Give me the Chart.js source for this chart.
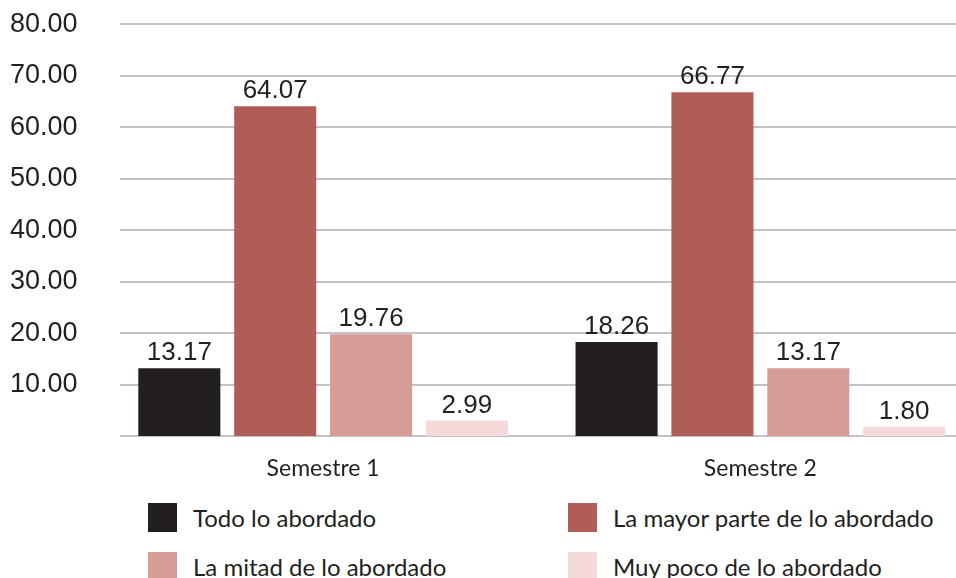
<!DOCTYPE html>
<html>
<head>
<meta charset="utf-8">
<script src="https://cdn.jsdelivr.net/npm/chart.js@4.4.0/dist/chart.umd.min.js"></script>
<style>
  html, body { margin: 0; padding: 0; background: #fff; overflow: hidden; }
  #wrap { position: relative; width: 956px; height: 578px; overflow: hidden; }
  #chart { position: absolute; left: 0; top: -19px; }
  #legend { position: absolute; left: 148px; top: 503px; width: 808px;
    display: grid; grid-template-columns: 420px 388px; grid-auto-rows: 49px;
    font-family: Lato, sans-serif; font-size: 24px; color: #231F20; }
  #legend .item { display: flex; align-items: flex-start; white-space: nowrap; }
  #legend .box { width: 29px; height: 29px; margin-right: 16px; flex: none; }
  #legend .txt { line-height: 29px; }
</style>
</head>
<body>
<div id="wrap">
  <canvas id="chart" width="979" height="509"></canvas>
  <div id="legend"></div>
</div>
<script>
document.addEventListener('DOMContentLoaded', function() {

// data
const categories = ['Semestre 1', 'Semestre 2'];
const seriesNames = ['Todo lo abordado', 'La mayor parte de lo abordado', 'La mitad de lo abordado', 'Muy poco de lo abordado'];
const todo = [13.17, 18.26];
const mayorParte = [64.07, 66.77];
const mitad = [19.76, 13.17];
const muyPoco = [2.99, 1.80];
const colors = ['#231F20', '#B05D57', '#D69C96', '#F4DADA'];
const yTicks = [0, 10, 20, 30, 40, 50, 60, 70, 80];

const numFont = '26px "Liberation Sans", Arial, sans-serif';
const textColor = '#231F20';
const gridColor = '#C3C2C7';

// grid lines start a bit right of the axis area
const gridPlugin = {
  id: 'gridLines',
  beforeDatasetsDraw(chart) {
    const ctx = chart.ctx;
    const y = chart.scales.y;
    ctx.save();
    ctx.strokeStyle = gridColor;
    ctx.lineWidth = 2;
    yTicks.forEach(v => {
      const py = Math.round(y.getPixelForValue(v));
      ctx.beginPath();
      ctx.moveTo(120, py);
      ctx.lineTo(chart.width, py);
      ctx.stroke();
    });
    ctx.restore();
  }
};

// value labels above bars
const valuePlugin = {
  id: 'valueLabels',
  afterDatasetsDraw(chart) {
    const ctx = chart.ctx;
    ctx.save();
    ctx.font = numFont;
    ctx.fillStyle = textColor;
    ctx.textAlign = 'center';
    ctx.textBaseline = 'alphabetic';
    chart.data.datasets.forEach((ds, i) => {
      chart.getDatasetMeta(i).data.forEach((bar, j) => {
        ctx.fillText(ds.data[j].toFixed(2), bar.x, bar.y - 8);
      });
    });
    ctx.restore();
  }
};

const chart = new Chart(document.getElementById('chart').getContext('2d'), {
  type: 'bar',
  data: {
    labels: categories,
    datasets: [todo, mayorParte, mitad, muyPoco].map((d, i) => ({
      label: seriesNames[i],
      data: d,
      backgroundColor: colors[i],
      borderWidth: 0,
      categoryPercentage: 0.877,
      barPercentage: 0.856
    }))
  },
  options: {
    responsive: false,
    animation: false,
    layout: { padding: 0 },
    plugins: {
      legend: { display: false },
      tooltip: { enabled: false }
    },
    scales: {
      x: {
        grid: { display: false, drawTicks: false },
        border: { display: false },
        ticks: {
          color: textColor,
          font: { family: 'Lato', size: 23 },
          padding: 19
        },
        afterFit(scale) { scale.height = 54; }
      },
      y: {
        min: 0,
        max: 80,
        afterBuildTicks(scale) { scale.ticks = yTicks.map(v => ({ value: v })); },
        grid: { display: false, drawTicks: false },
        border: { display: false },
        ticks: {
          color: textColor,
          font: { family: '"Liberation Sans", Arial, sans-serif', size: 27 },
          padding: 27,
          callback: v => v === 0 ? '' : v.toFixed(2)
        },
        afterFit(scale) { scale.width = 104.5; }
      }
    }
  },
  plugins: [gridPlugin, valuePlugin]
});

// legend in two columns
const legend = document.getElementById('legend');
chart.data.datasets.forEach(ds => {
  const item = document.createElement('div');
  item.className = 'item';
  item.innerHTML = '<span class="box" style="background:' + ds.backgroundColor + '"></span><span class="txt"></span>';
  item.querySelector('.txt').textContent = ds.label;
  legend.appendChild(item);
});

}, false);
</script>
</body>
</html>
